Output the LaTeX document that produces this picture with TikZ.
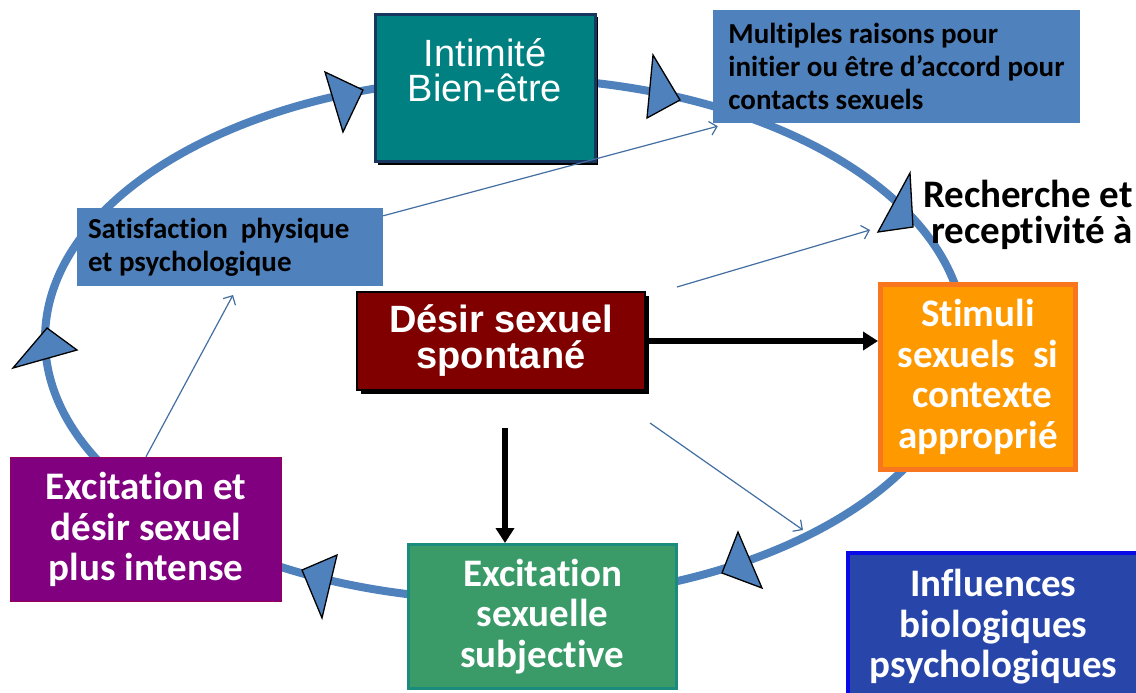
\documentclass[tikz,border=0pt]{standalone}
\usepackage{fontspec}
\setmainfont{Carlito}[Ligatures={TeX,NoCommon}]
\newfontfamily\arialfont{Liberation Sans}
\usetikzlibrary{arrows.meta,shadows}

\definecolor{cycleblue}{RGB}{79,129,189}
\definecolor{intimteal}{RGB}{0,128,128}
\definecolor{intimnavy}{RGB}{23,55,94}
\definecolor{desirred}{RGB}{128,0,0}
\definecolor{stimorange}{RGB}{255,153,0}
\definecolor{stimborder}{RGB}{247,118,30}
\definecolor{subjgreen}{RGB}{58,155,105}
\definecolor{subjborder}{RGB}{25,140,125}
\definecolor{excitpurple}{RGB}{128,0,128}
\definecolor{excitborder}{RGB}{150,0,90}
\definecolor{inflblue}{RGB}{40,70,170}
\definecolor{inflborder}{RGB}{10,10,230}

\tikzset{
  box/.style={rectangle,inner sep=0pt,align=center,text=white,
    font=\bfseries\fontsize{39}{40.5}\selectfont},
  smallbox/.style={rectangle,inner ysep=0pt,fill=cycleblue,text=black,align=left,
    font=\bfseries\fontsize{29}{33}\selectfont},
  tri/.style={fill=cycleblue,draw=black,line width=1.3pt,line join=miter},
  thinarrow/.style={draw=cycleblue!85!black,line width=1.2pt,
    -{Straight Barb[length=7pt,width=14pt]}},
  thickarrow/.style={draw=black,line width=5.5pt,
    -{Triangle[length=15pt,width=18pt]}}
}

\begin{document}
\begin{tikzpicture}[x=1pt,y=-1pt]

\useasboundingbox (0,0) rectangle (1136,693);
\fill[white] (0,0) rectangle (1136,693);

% the cycle
\draw[cycleblue,line width=8pt] (505,339) ellipse [x radius=460,y radius=261];

\filldraw[tri] (325,72) -- (363,90) -- (343,132) -- cycle;
\filldraw[tri] (653,55) -- (680,100) -- (647,118) -- cycle;
\filldraw[tri] (910,173) -- (878,232) -- (913,227) -- cycle;
\filldraw[tri] (47,328) -- (13,368) -- (77,350) -- cycle;
\filldraw[tri] (337,555) -- (302,570) -- (322,618) -- cycle;
\filldraw[tri] (738,532) -- (722,573) -- (762,588) -- cycle;

% boxes
\node[rectangle,inner sep=0pt,anchor=north,fill=intimteal,draw=intimnavy,line width=3pt,
  drop shadow={shadow xshift=3pt,shadow yshift=-3pt,opacity=1,fill=black},text=white]
  (intim) at (485,13)
  {\parbox[t][147pt][t]{220pt}{\centering\arialfont\fontsize{38}{35}\selectfont
   \vspace*{24pt}Intimité\\Bien-être}};

\node[smallbox,inner xsep=0pt,minimum width=367pt,minimum height=113pt]
  (raisons) at (896.5,66.5)
  {Multiples raisons pour\\initier ou être d’accord pour\\contacts sexuels};

\node[smallbox,align=flush left,text width=284pt,inner xsep=11pt,minimum height=78pt]
  (satis) at (230,247)
  {Satisfaction~ physique\\et psychologique};

\node[anchor=north east,inner sep=0pt,align=right,
  font=\bfseries\fontsize{39}{36}\selectfont]
  (rech) at (1133,180) {Recherche et\\receptivité à};

\node[box,fill=desirred,draw=black,line width=1.5pt,minimum width=288pt,minimum height=98pt,
  drop shadow={shadow xshift=4pt,shadow yshift=-4pt,opacity=1,fill=black},
  font=\arialfont\bfseries\fontsize{38}{36}\selectfont]
  (desir) at (501,341) {Désir sexuel\\spontané};

\node[box,fill=stimorange,draw=stimborder,line width=5pt,minimum width=195pt,minimum height=185pt]
  (stimuli) at (978,377) {Stimuli\\sexuels~ si\\\ contexte\\approprié};

\node[box,fill=subjgreen,draw=subjborder,line width=3pt,minimum width=268pt,minimum height=144pt]
  (subj) at (542.5,616.5) {Excitation\\sexuelle\\subjective};

\node[box,fill=excitpurple,draw=excitborder,line width=1.5pt,minimum width=271pt,minimum height=144pt]
  (excit) at (146,529.5) {Excitation et\\désir sexuel\\plus intense};

\node[box,fill=inflblue,draw=inflborder,line width=4pt,minimum width=291pt,minimum height=148pt]
  (infl) at (993.5,627) {Influences\\biologiques\\psychologiques};

% arrows
\draw[thickarrow] (desir.east) -- (desir.east -| stimuli.west);
\coordinate (dstart) at (505,428);
\draw[thickarrow] (dstart) -- (dstart |- subj.north);

\coordinate (satin) at (233,295);
\draw[thinarrow] (excit.north) -- (satin);
\draw[thinarrow] ([yshift=-8pt]satis.north east) -- ([xshift=5pt,yshift=-3pt]raisons.south west);
\coordinate (cstart) at (677,287);
\coordinate (cend) at (870,230);
\draw[thinarrow] (cstart) -- (cend);
\coordinate (dnstart) at (650,423);
\coordinate (dnend) at (803,530);
\draw[thinarrow] (dnstart) -- (dnend);

\end{tikzpicture}
\end{document}
